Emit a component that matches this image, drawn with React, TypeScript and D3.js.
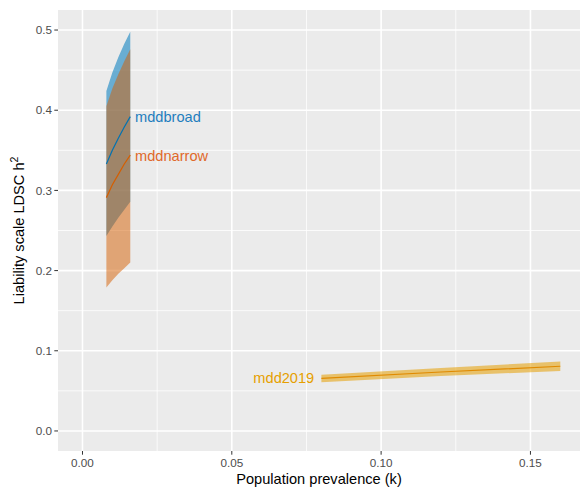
import React from 'react';
import * as d3 from 'd3';

// prevalence grid used for the two early studies
const kSmall = [0.008, 0.010, 0.012, 0.014, 0.016];

const broadMid = [0.333, 0.350, 0.365, 0.379, 0.392];
const broadLo = [0.243, 0.255, 0.266, 0.276, 0.286];
const broadHi = [0.424, 0.447, 0.466, 0.483, 0.498];

const narrowMid = [0.291, 0.307, 0.320, 0.333, 0.344];
const narrowLo = [0.179, 0.188, 0.196, 0.203, 0.210];
const narrowHi = [0.405, 0.427, 0.445, 0.461, 0.476];

const kLarge = [0.08, 0.12, 0.16];
const mdd19Mid = [0.0655, 0.0735, 0.0807];
const mdd19Lo = [0.0608, 0.0684, 0.0749];
const mdd19Hi = [0.0702, 0.0786, 0.0865];

const xTicks = [0, 0.05, 0.1, 0.15];
const xMinor = [0.025, 0.075, 0.125];
const yTicks = [0, 0.1, 0.2, 0.3, 0.4, 0.5];
const yMinor = [0.05, 0.15, 0.25, 0.35, 0.45];

const W = 580, H = 489;
const panel = { left: 58, top: 10, right: 583, bottom: 451 };

const x = d3.scaleLinear().domain([-0.0082, 0.1676]).range([panel.left, panel.right]);
const y = d3.scaleLinear().domain([-0.025, 0.525]).range([panel.bottom, panel.top]);

const toRows = (ks: number[], mid: number[], lo: number[], hi: number[]) =>
  ks.map((k, i) => ({ k, mid: mid[i], lo: lo[i], hi: hi[i] }));

type Row = { k: number; mid: number; lo: number; hi: number };

const area = d3.area<Row>().x(d => x(d.k)).y0(d => y(d.lo)).y1(d => y(d.hi));
const line = d3.line<Row>().x(d => x(d.k)).y(d => y(d.mid));

const broad = toRows(kSmall, broadMid, broadLo, broadHi);
const narrow = toRows(kSmall, narrowMid, narrowLo, narrowHi);
const mdd19 = toRows(kLarge, mdd19Mid, mdd19Lo, mdd19Hi);

const font = '"Liberation Sans", Arial, sans-serif';

export default function App() {
  return (
    <svg width={W} height={H} style={{ position: 'absolute', left: 0, top: 0, background: '#fff' }} fontFamily={font}>
      <defs>
        <clipPath id="panel">
          <rect x={panel.left} y={panel.top} width={panel.right - panel.left} height={panel.bottom - panel.top} />
        </clipPath>
      </defs>
      <rect x={panel.left} y={panel.top} width={panel.right - panel.left} height={panel.bottom - panel.top} fill="#EBEBEB" />
      <g clipPath="url(#panel)">
        {yMinor.map(v => (
          <line key={'ym' + v} x1={panel.left} x2={panel.right} y1={y(v)} y2={y(v)} stroke="#fff" strokeWidth={0.8} />
        ))}
        {xMinor.map(v => (
          <line key={'xm' + v} y1={panel.top} y2={panel.bottom} x1={x(v)} x2={x(v)} stroke="#fff" strokeWidth={0.8} />
        ))}
        {yTicks.map(v => (
          <line key={'yg' + v} x1={panel.left} x2={panel.right} y1={y(v)} y2={y(v)} stroke="#fff" strokeWidth={1.6} />
        ))}
        {xTicks.map(v => (
          <line key={'xg' + v} y1={panel.top} y2={panel.bottom} x1={x(v)} x2={x(v)} stroke="#fff" strokeWidth={1.6} />
        ))}

        <path d={area(broad) || ''} fill="#0A80C0" fillOpacity={0.58} />
        <path d={area(narrow) || ''} fill="#D55E00" fillOpacity={0.5} />
        <path d={area(mdd19) || ''} fill="#E69F00" fillOpacity={0.55} />
        <path d={line(broad) || ''} fill="none" stroke="#0072B2" strokeWidth={1.2} />
        <path d={line(narrow) || ''} fill="none" stroke="#D55E00" strokeWidth={1.2} />
        <path d={line(mdd19) || ''} fill="none" stroke="#E08A00" strokeWidth={1.2} />

        <text x={x(0.0176)} y={y(0.3855)} fontSize={14.6} fill="#1F7EBE">mddbroad</text>
        <text x={x(0.0176)} y={y(0.3365)} fontSize={14.6} fill="#E0692A">mddnarrow</text>
        <text x={x(0.0776)} y={y(0.0595)} fontSize={14.6} fill="#E69F00" textAnchor="end">mdd2019</text>
      </g>

      {yTicks.map(v => (
        <g key={'yt' + v}>
          <line x1={panel.left - 3.7} x2={panel.left} y1={y(v)} y2={y(v)} stroke="#333" strokeWidth={1} />
          <text x={panel.left - 6} y={y(v)} dy="0.35em" textAnchor="end" fontSize={11.7} fill="#4D4D4D">
            {d3.format('.1f')(v)}
          </text>
        </g>
      ))}
      {xTicks.map(v => (
        <g key={'xt' + v}>
          <line y1={panel.bottom} y2={panel.bottom + 3.7} x1={x(v)} x2={x(v)} stroke="#333" strokeWidth={1} />
          <text x={x(v)} y={panel.bottom + 16} textAnchor="middle" fontSize={11.7} fill="#4D4D4D">
            {d3.format('.2f')(v)}
          </text>
        </g>
      ))}

      <text x={(panel.left + 580) / 2} y={484} textAnchor="middle" fontSize={14.6} fill="#000">
        Population prevalence (k)
      </text>
      <text transform={`translate(24, ${(panel.top + panel.bottom) / 2}) rotate(-90)`} textAnchor="middle" fontSize={14.6} fill="#000">
        Liability scale LDSC h<tspan fontSize={10.5} dy={-6}>2</tspan>
      </text>
    </svg>
  );
}
